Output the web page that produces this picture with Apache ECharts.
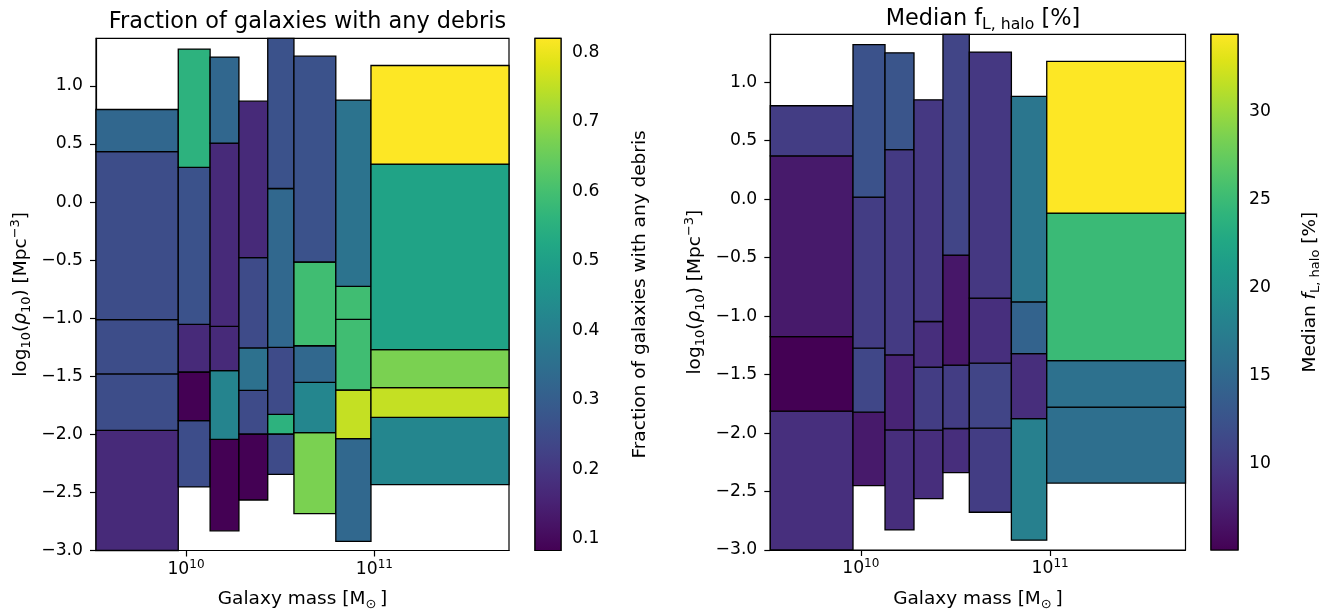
<!DOCTYPE html>
<html>
<head>
<meta charset="utf-8">
<script src="https://cdn.jsdelivr.net/npm/echarts@6/dist/echarts.min.js"></script>
<style>
  html, body { margin: 0; padding: 0; background: #ffffff; }
  #chart { width: 1334px; height: 614px; }
</style>
</head>
<body>
<div id="chart"></div>
<script>
// Stellar-mass bin edges [M_sun]
const massEdges = [3.33e9, 9.1e9, 1.343e10, 1.91e10, 2.716e10, 3.741e10, 6.24e10, 9.59e10, 5.18e11];

// Left panel: log10(rho10) bin edges inside each mass bin (bottom -> top)
const debrisRhoEdges = [
  [-3.000, -1.966, -1.480, -1.013, 0.435, 0.797],
  [-2.453, -1.882, -1.463, -1.053, 0.298, 1.317],
  [-2.831, -2.043, -1.452, -1.071, 0.508, 1.248],
  [-2.565, -1.997, -1.621, -1.256, -0.479, 0.869],
  [-2.344, -1.997, -1.828, -1.251, 0.117, 1.410],
  [-2.682, -1.985, -1.552, -1.237, -0.516, 1.256],
  [-2.921, -2.037, -1.618, -1.010, -0.726, 0.878],
  [-2.433, -1.854, -1.598, -1.271, 0.327, 1.176]
];
// Fraction of galaxies with any debris in each cell (bottom -> top)
const debrisFraction = [
  [0.170, 0.253, 0.253, 0.253, 0.326],
  [0.255, 0.083, 0.170, 0.267, 0.555],
  [0.083, 0.415, 0.170, 0.170, 0.326],
  [0.083, 0.250, 0.356, 0.250, 0.170],
  [0.250, 0.555, 0.250, 0.330, 0.267],
  [0.673, 0.420, 0.330, 0.592, 0.267],
  [0.330, 0.754, 0.592, 0.592, 0.363],
  [0.420, 0.754, 0.673, 0.510, 0.820]
];

// Right panel: log10(rho10) bin edges inside each mass bin (bottom -> top)
const haloRhoEdges = [
  [-3.000, -1.813, -1.175, 0.371, 0.799],
  [-2.449, -1.821, -1.274, 0.018, 1.321],
  [-2.828, -1.973, -1.331, 0.423, 1.252],
  [-2.560, -1.975, -1.436, -1.046, 0.850],
  [-2.338, -1.961, -1.419, -0.478, 1.410],
  [-2.677, -1.958, -1.402, -0.846, 1.258],
  [-2.916, -1.876, -1.320, -0.878, 0.879],
  [-2.428, -1.778, -1.380, -0.119, 1.178]
];
// Median halo light fraction f_L,halo [%] in each cell (bottom -> top)
const haloMedian = [
  [9.0, 5.06, 7.1, 10.3],
  [7.1, 11.2, 10.3, 12.4],
  [8.9, 8.0, 10.0, 12.7],
  [8.9, 10.3, 8.9, 9.8],
  [8.9, 10.3, 6.9, 11.0],
  [10.3, 11.0, 9.0, 9.8],
  [17.8, 8.9, 14.3, 16.5],
  [15.7, 16.0, 24.9, 34.4]
];

// Tick values
const rhoTicks = [-3.0, -2.5, -2.0, -1.5, -1.0, -0.5, 0.0, 0.5, 1.0];
const massTicks = [1e10, 1e11];
const fractionTicks = [0.1, 0.2, 0.3, 0.4, 0.5, 0.6, 0.7, 0.8];
const haloTicks = [10, 15, 20, 25, 30];

// ---------------------------------------------------------------------------
const FONT = "'DejaVu Sans', sans-serif";
const TICK_FS = 17.2, LABEL_FS = 18.5, TITLE_FS = 22.4;
const BLACK = '#000000';
const log10 = Math.log10;

// viridis colormap samples
const VIRIDIS = ['#440154','#471365','#482475','#463480','#414487','#3b528b','#355f8d',
  '#2f6c8e','#2a788e','#25848e','#21918c','#1e9c89','#22a884','#2fb47c','#44bf70',
  '#5ec962','#7ad151','#9bd93c','#bddf26','#dfe318','#fde725'];
function hexToRgb(h) { return [1, 3, 5].map(i => parseInt(h.substr(i, 2), 16)); }
const VIRIDIS_RGB = VIRIDIS.map(hexToRgb);
function viridis(t) {
  t = Math.max(0, Math.min(1, t));
  const p = t * (VIRIDIS_RGB.length - 1);
  const i = Math.min(Math.floor(p), VIRIDIS_RGB.length - 2);
  const f = p - i;
  const a = VIRIDIS_RGB[i], b = VIRIDIS_RGB[i + 1];
  const c = a.map((v, k) => Math.round(v + (b[k] - v) * f));
  return 'rgb(' + c.join(',') + ')';
}
const viridisStops = VIRIDIS.map((c, i) => ({ offset: i / (VIRIDIS.length - 1), color: c }));

const xMin = log10(massEdges[0]);
const xMax = log10(massEdges[massEdges.length - 1]);
const xMajor = massTicks.map(log10);
const xMinor = [];
for (let d = Math.floor(xMin); d <= Math.ceil(xMax); d++) {
  for (let k = 2; k <= 9; k++) {
    const v = d + log10(k);
    if (v > xMin && v < xMax) xMinor.push(v);
  }
}

function buildCells(edges, values) {
  const out = [];
  edges.forEach((col, i) => {
    for (let j = 0; j < col.length - 1; j++) {
      out.push([log10(massEdges[i]), log10(massEdges[i + 1]), col[j], col[j + 1], values[i][j]]);
    }
  });
  return out;
}
const flat = a => a.reduce((s, r) => s.concat(r), []);

const debrisCells = buildCells(debrisRhoEdges, debrisFraction);
const haloCells = buildCells(haloRhoEdges, haloMedian);
const debrisRange = [Math.min(...flat(debrisFraction)), Math.max(...flat(debrisFraction))];
const haloRange = [Math.min(...flat(haloMedian)), Math.max(...flat(haloMedian))];
const debrisY = [Math.min(...flat(debrisRhoEdges)), Math.max(...flat(debrisRhoEdges))];
const haloY = [Math.min(...flat(haloRhoEdges)), Math.max(...flat(haloRhoEdges))];

const fmtMinus = s => s.replace('-', '\u2212');

function cellRenderer(range) {
  return function (params, api) {
    const tl = api.coord([api.value(0), api.value(3)]);
    const br = api.coord([api.value(1), api.value(2)]);
    const t = (api.value(4) - range[0]) / (range[1] - range[0]);
    return {
      type: 'rect',
      shape: { x: tl[0], y: tl[1], width: br[0] - tl[0], height: br[1] - tl[1] },
      style: { fill: viridis(t), stroke: BLACK, lineWidth: 1.3 }
    };
  };
}
function colorbarRenderer(params, api) {
  const tl = api.coord([api.value(0), api.value(3)]);
  const br = api.coord([api.value(1), api.value(2)]);
  return {
    type: 'rect',
    shape: { x: tl[0], y: tl[1], width: br[0] - tl[0], height: br[1] - tl[1] },
    style: { fill: new echarts.graphic.LinearGradient(0, 1, 0, 0, viridisStops), stroke: BLACK, lineWidth: 1.2 }
  };
}

// shared text styles
const base = { fontFamily: FONT, color: BLACK, fontWeight: 'normal' };
const richLabel = {
  t: Object.assign({ fontSize: LABEL_FS, lineHeight: 24 }, base),
  i: Object.assign({ fontSize: LABEL_FS, lineHeight: 24, fontStyle: 'italic' }, base),
  s: Object.assign({ fontSize: 13, lineHeight: 13, verticalAlign: 'bottom' }, base),
  p: Object.assign({ fontSize: 13, lineHeight: 13, verticalAlign: 'top' }, base)
};
const richPow = {
  b: Object.assign({ fontSize: TICK_FS, lineHeight: 22 }, base),
  p: Object.assign({ fontSize: 12, lineHeight: 12, verticalAlign: 'top' }, base)
};
const richTitle = {
  m: Object.assign({ fontSize: TITLE_FS, lineHeight: 27 }, base),
  s: Object.assign({ fontSize: 15.7, lineHeight: 15.7, verticalAlign: 'bottom' }, base)
};

const axisLine = { show: true, onZero: false, lineStyle: { color: BLACK, width: 1.2 } };

function massAxis(gridIndex) {
  return [
    {
      type: 'value', gridIndex, min: xMin, max: xMax, position: 'bottom',
      axisLine,
      axisTick: { show: true, customValues: xMajor, length: 6, lineStyle: { color: BLACK, width: 1.2 } },
      axisLabel: {
        show: true, customValues: xMajor, margin: 8,
        formatter: v => '{b|10}{p|' + Math.round(v) + '}', rich: richPow
      },
      splitLine: { show: false },
      name: '{t|Galaxy mass [M}{s|\u2299}{t|\u2009]}',
      nameLocation: 'middle', nameGap: 37,
      nameTextStyle: { rich: richLabel }
    },
    {
      type: 'value', gridIndex, min: xMin, max: xMax, position: 'bottom',
      axisLine: { show: false },
      axisTick: { show: true, customValues: xMinor, length: 3.4, lineStyle: { color: BLACK, width: 1 } },
      axisLabel: { show: false },
      splitLine: { show: false }
    }
  ];
}
function rhoAxis(gridIndex, yr) {
  return {
    type: 'value', gridIndex, min: yr[0], max: yr[1], position: 'left',
    axisLine,
    axisTick: { show: true, customValues: rhoTicks, length: 6, lineStyle: { color: BLACK, width: 1.2 } },
    axisLabel: {
      show: true, customValues: rhoTicks, margin: 13,
      fontFamily: FONT, fontSize: TICK_FS, color: BLACK,
      formatter: v => fmtMinus(v.toFixed(1))
    },
    splitLine: { show: false },
    name: '{t|log}{s|10}{t|(}{i|\u03c1}{s|10}{t|) [Mpc}{p|\u22123}{t|]}',
    nameLocation: 'middle', nameGap: 63, nameRotate: 90,
    nameTextStyle: { rich: richLabel }
  };
}
function hiddenX(gridIndex) {
  return { type: 'value', gridIndex, min: 0, max: 1, show: false };
}
function colorbarAxis(gridIndex, range, ticks, fmt, name, gap) {
  return {
    type: 'value', gridIndex, min: range[0], max: range[1], position: 'right',
    axisLine: { show: false },
    axisTick: { show: true, customValues: ticks, length: 6, lineStyle: { color: BLACK, width: 1.2 } },
    axisLabel: {
      show: true, customValues: ticks, margin: 11,
      fontFamily: FONT, fontSize: TICK_FS, color: BLACK, formatter: fmt
    },
    splitLine: { show: false },
    name, nameLocation: 'middle', nameGap: gap, nameRotate: 90,
    nameTextStyle: { rich: richLabel }
  };
}

const gridBox = {
  show: true, borderColor: BLACK, borderWidth: 1.2, backgroundColor: 'transparent',
  containLabel: false, outerBoundsMode: 'none'
};

const option = {
  animation: false,
  backgroundColor: '#ffffff',
  textStyle: { fontFamily: FONT },
  title: [
    {
      text: 'Fraction of galaxies with any debris', left: 302.5, top: 6, textAlign: 'center',
      textStyle: { fontFamily: FONT, fontSize: TITLE_FS, fontWeight: 'normal', color: BLACK }
    },
    {
      text: '{m|Median f}{s|L, halo}{m| [%]}', left: 977.9, top: 1, textAlign: 'center',
      textStyle: { fontWeight: 'normal', rich: richTitle }
    }
  ],
  grid: [
    Object.assign({ left: 96, top: 38.3, width: 413, height: 512.2 }, gridBox),
    Object.assign({ left: 535, top: 38.3, width: 26, height: 512.2 }, gridBox),
    Object.assign({ left: 770.3, top: 34.3, width: 415.2, height: 515.7 }, gridBox),
    Object.assign({ left: 1211, top: 34.3, width: 27, height: 515.7 }, gridBox)
  ],
  xAxis: [
    ...massAxis(0),      // 0, 1
    hiddenX(1),          // 2
    ...massAxis(2),      // 3, 4
    hiddenX(3)           // 5
  ],
  yAxis: [
    rhoAxis(0, debrisY),
    colorbarAxis(1, debrisRange, fractionTicks, v => v.toFixed(1),
      '{t|Fraction of galaxies with any debris}', 67),
    rhoAxis(2, haloY),
    colorbarAxis(3, haloRange, haloTicks, v => String(Math.round(v)),
      '{t|Median }{i|f}{s|L, halo}{t| [%]}', 60)
  ],
  series: [
    {
      type: 'custom', name: 'Fraction of galaxies with any debris',
      xAxisIndex: 0, yAxisIndex: 0,
      encode: { x: [0, 1], y: [2, 3] },
      renderItem: cellRenderer(debrisRange), data: debrisCells
    },
    {
      type: 'custom', xAxisIndex: 2, yAxisIndex: 1,
      encode: { x: [0, 1], y: [2, 3] },
      renderItem: colorbarRenderer, data: [[0, 1, debrisRange[0], debrisRange[1]]]
    },
    {
      type: 'custom', name: 'Median f_L,halo',
      xAxisIndex: 3, yAxisIndex: 2,
      encode: { x: [0, 1], y: [2, 3] },
      renderItem: cellRenderer(haloRange), data: haloCells
    },
    {
      type: 'custom', xAxisIndex: 5, yAxisIndex: 3,
      encode: { x: [0, 1], y: [2, 3] },
      renderItem: colorbarRenderer, data: [[0, 1, haloRange[0], haloRange[1]]]
    }
  ]
};

const chart = echarts.init(document.getElementById('chart'), null, { renderer: 'canvas' });
chart.setOption(option);
</script>
</body>
</html>
